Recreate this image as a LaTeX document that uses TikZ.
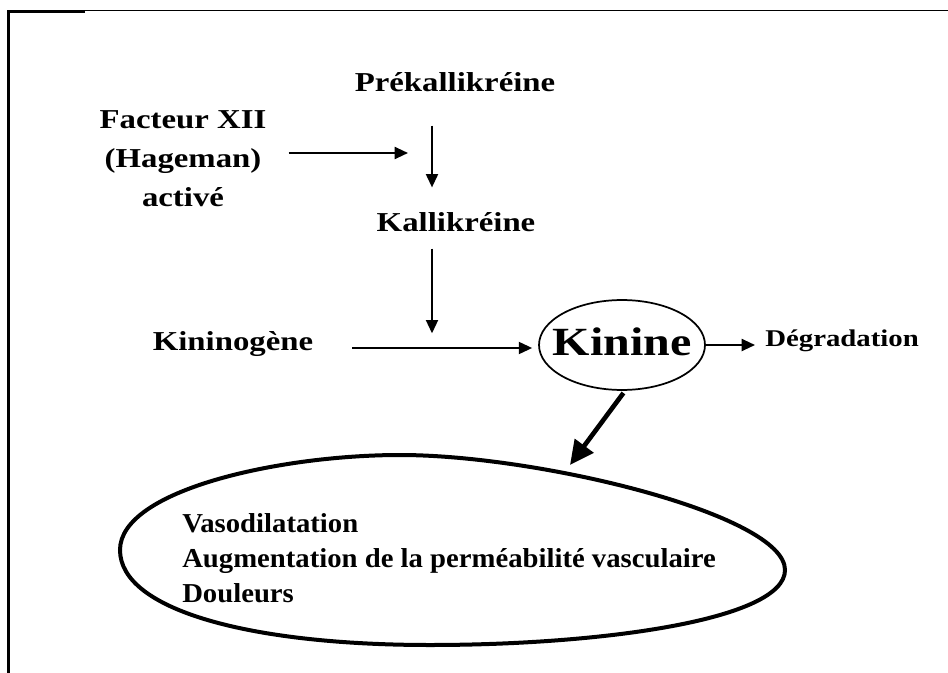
\documentclass[tikz,border=0pt]{standalone}
\usepackage{fontspec}
\setmainfont{Liberation Serif}[FakeStretch=1.2]
\newfontfamily\effetfont{Liberation Serif}[FakeStretch=1.05]
\usetikzlibrary{arrows.meta,shapes.geometric}

\tikzset{
	terme/.style={inner sep=0pt, font=\bfseries\fontsize{20.5}{29.25}\selectfont},
	fleche/.style={line width=1.5pt, -{Triangle[length=10pt,width=9pt]}},
	grosse fleche/.style={line width=3.5pt, -{Triangle[length=18pt,width=17pt]}},
}

\begin{document}
\begin{tikzpicture}[x=0.75pt, y=-0.75pt]
	\useasboundingbox (0,0) rectangle (948,673);

	\draw[line width=1pt] (85,10.7) -- (948,10.7);
	\draw[line width=2pt] (8.7,673) -- (8.7,11.3) -- (85,11.3);

	\node[terme, anchor=base] (prek) at (455,92) {Prékallikréine};
	\node[terme, align=center] (fxii) at (183,158.5) {Facteur XII\\(Hageman)\\activé};
	\node[terme, anchor=base] (kall) at (456,232) {Kallikréine};
	\node[terme, anchor=base] (kinino) at (233,350) {Kininogène};
	\node[draw, ellipse, line width=1.3pt, inner xsep=-8pt, inner ysep=10.85pt,
		text height=20.5pt, text depth=5.5pt, font=\bfseries\fontsize{30}{36}\selectfont] (kinine) at (622,345) {Kinine};
	\node[terme, anchor=base west, font=\bfseries\fontsize{18}{22}\selectfont] (degr) at (765,346) {Dégradation};
	\node[inner sep=0pt, anchor=west, align=left, font=\effetfont\bfseries\fontsize{20.5}{26.25}\selectfont] (effets) at (182,558.5)
		{Vasodilatation\\Augmentation de la perméabilité vasculaire\\Douleurs};

	\coordinate (axe) at (432,0);
	\coordinate (activation) at (432,153);
	\coordinate (jonction) at (432,348);
	\coordinate (cible) at (570,465);

	\draw[line width=3pt] (120,550) .. controls (120,490) and (280,455) .. (400,455)
		.. controls (540,455) and (785,515) .. (785,570)
		.. controls (785,620) and (600,645) .. (430,645)
		.. controls (250,645) and (120,610) .. (120,550) -- cycle;

	\draw[fleche, shorten <=16.5pt, shorten >=18pt] (fxii.east |- activation) -- (activation);
	\draw[fleche, shorten <=24.75pt, shorten >=19pt] (prek.south -| axe) -- (kall.north -| axe);
	\draw[fleche, shorten <=12pt, shorten >=11pt] (kall.south -| axe) -- (jonction);
	\draw[fleche, shorten <=29pt, shorten >=4.5pt] (kinino.east |- jonction) -- (kinine.west |- jonction);
	\draw[fleche, shorten >=7.5pt] (kinine.east) -- (kinine.east -| degr.west);
	\draw[grosse fleche, shorten <=2pt] ([xshift=2.25pt]kinine.south) -- (cible);
\end{tikzpicture}
\end{document}
